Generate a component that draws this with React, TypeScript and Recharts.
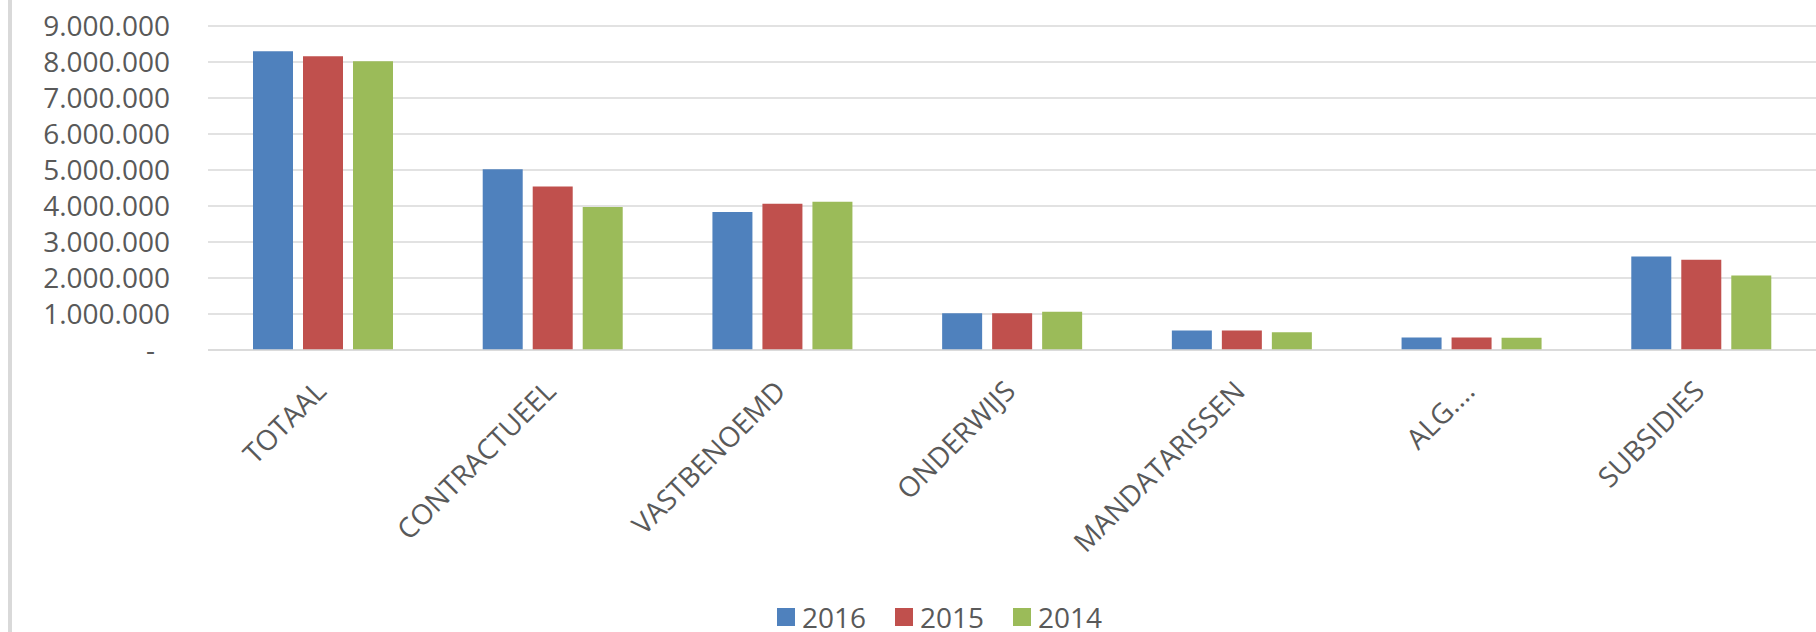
import React from 'react';
import { BarChart, Bar, XAxis, YAxis, CartesianGrid, Legend } from 'recharts';

const categories = ['TOTAAL', 'CONTRACTUEEL', 'VASTBENOEMD', 'ONDERWIJS', 'MANDATARISSEN', 'ALG....', 'SUBSIDIES'];
const values2016 = [8300000, 5020000, 3830000, 1020000, 540000, 350000, 2600000];
const values2015 = [8160000, 4540000, 4065000, 1020000, 540000, 350000, 2510000];
const values2014 = [8020000, 3970000, 4120000, 1065000, 490000, 340000, 2070000];
const yTicks = [0, 1000000, 2000000, 3000000, 4000000, 5000000, 6000000, 7000000, 8000000, 9000000];
const seriesNames = ['2016', '2015', '2014'];
const seriesColors = ['#4F81BD', '#C0504D', '#9BBB59'];

const data = categories.map((c, i) => ({
  name: c,
  '2016': values2016[i],
  '2015': values2015[i],
  '2014': values2014[i],
}));

const FONT = '"Open Sans", sans-serif';
const TEXT = '#595959';
const GRID = '#d9d9d9';

const fmt = (v: number) => {
  if (v === 0) return '-';
  return Math.round(v).toString().replace(/\B(?=(\d{3})+(?!\d))/g, '.');
};

const YTick = (props: any) => {
  const { x, y, payload } = props;
  const v = payload.value;
  const isZero = v === 0;
  return (
    <text
      x={x - (isZero ? 53 : 38)}
      y={y}
      dy="0.36em"
      textAnchor="end"
      fill={TEXT}
      fontSize={28}
      fontFamily={FONT}
    >
      {fmt(v)}
    </text>
  );
};

const XTick = (props: any) => {
  const { x, y, payload } = props;
  return (
    <g transform={`translate(${x + 5},${y + 43}) rotate(-45)`}>
      <text x={0} y={0} textAnchor="end" fill={TEXT} fontSize={28} fontFamily={FONT}>
        {payload.value}
      </text>
    </g>
  );
};

const LegendContent = () => (
  <div
    style={{
      display: 'flex',
      alignItems: 'center',
      height: 31,
      paddingTop: 9,
      fontFamily: FONT,
      fontSize: 28,
      color: TEXT,
      lineHeight: '28px',
    }}
  >
    {seriesNames.map((n, i) => (
      <div key={n} style={{ display: 'flex', alignItems: 'center', marginRight: 29 }}>
        <div style={{ width: 18, height: 18, background: seriesColors[i], marginRight: 7 }} />
        <span>{n}</span>
      </div>
    ))}
  </div>
);

export default function App() {
  return (
    <div style={{ position: 'absolute', left: 0, top: 0, width: 1816, height: 632, background: '#fff' }}>
      <div style={{ position: 'absolute', left: 8, top: 0, width: 4, height: 632, background: GRID }} />
      <BarChart
        width={1816}
        height={632}
        data={data}
        margin={{ top: 26, right: 0, bottom: 0, left: 0 }}
        barSize={40}
        barGap={10}
      >
        <CartesianGrid horizontal vertical={false} stroke={GRID} strokeWidth={1.5} />
        <XAxis
          dataKey="name"
          height={242}
          interval={0}
          tickLine={false}
          tickSize={0}
          tickMargin={0}
          axisLine={{ stroke: GRID, strokeWidth: 1.5 }}
          tick={<XTick />}
        />
        <YAxis
          width={208}
          domain={[0, 9000000]}
          ticks={yTicks}
          interval={0}
          axisLine={false}
          tickLine={false}
          tickSize={0}
          tickMargin={0}
          tick={<YTick />}
        />
        <Legend
          verticalAlign="bottom"
          content={<LegendContent />}
          wrapperStyle={{ left: 777, width: 400, height: 40, bottom: 0 }}
        />
        {seriesNames.map((n, i) => (
          <Bar key={n} dataKey={n} fill={seriesColors[i]} isAnimationActive={false} />
        ))}
      </BarChart>
    </div>
  );
}
